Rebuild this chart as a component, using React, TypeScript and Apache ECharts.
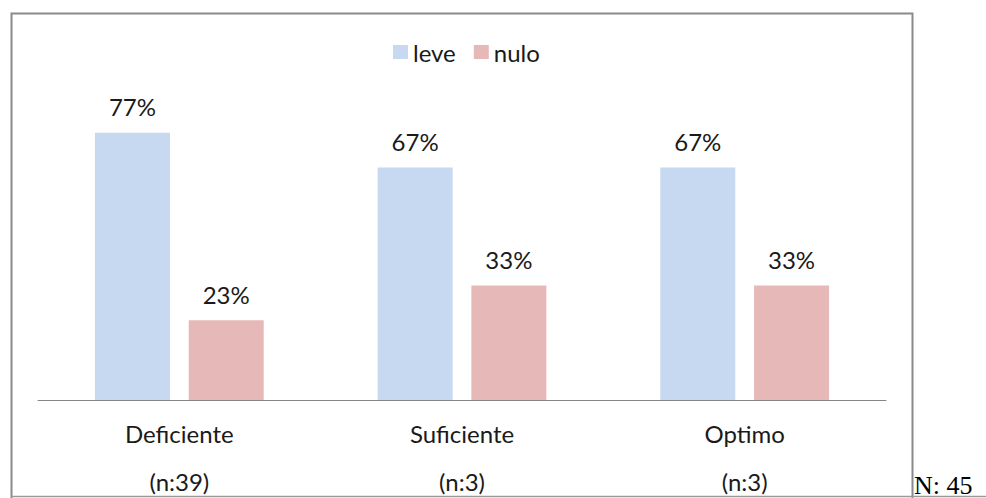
import React, { useEffect, useRef } from "react";
import * as echarts from "echarts";

// Chart data
const categories = ["Deficiente", "Suficiente", "Optimo"];
const groupCounts = ["(n:39)", "(n:3)", "(n:3)"];
const leveValues = [77, 67, 67];
const nuloValues = [23, 33, 33];
const totalLabel = "N: 45";

const FONT = "Lato, 'Noto Sans', sans-serif";
const TEXT = "#1a1a1a";

export default function App() {
  const ref = useRef<HTMLDivElement>(null);

  useEffect(() => {
    if (!ref.current) return;
    const chart = echarts.init(ref.current, undefined, { renderer: "svg" });
    const labelStyle = {
      show: true,
      position: "top" as const,
      distance: 14,
      formatter: "{c}%",
      color: TEXT,
      fontSize: 24,
      fontFamily: FONT,
    };
    chart.setOption({
      animation: false,
      backgroundColor: "#ffffff",
      legend: {
        top: 35,
        left: 388,
        itemWidth: 15,
        itemHeight: 14,
        itemGap: 18,
        icon: "rect",
        textStyle: { fontSize: 24, fontFamily: FONT, color: TEXT },
        data: ["leve", "nulo"],
      },
      grid: {
        left: 38,
        right: 100,
        top: 53,
        bottom: 98,
        containLabel: false,
        outerBoundsMode: "none",
      },
      xAxis: {
        type: "category",
        data: categories.map((c, i) => c + "\n" + groupCounts[i]),
        axisLine: { lineStyle: { color: "#868686", width: 1 } },
        axisTick: { show: false },
        axisLabel: {
          margin: 9,
          lineHeight: 48,
          fontSize: 24,
          fontFamily: FONT,
          color: TEXT,
        },
      },
      yAxis: {
        type: "value",
        min: 0,
        max: 100,
        show: false,
        splitLine: { show: false },
      },
      series: [
        {
          name: "leve",
          type: "bar",
          data: leveValues,
          barWidth: 75,
          barGap: "25%",
          itemStyle: { color: "#c6d9f1" },
          label: labelStyle,
        },
        {
          name: "nulo",
          type: "bar",
          data: nuloValues,
          barWidth: 75,
          itemStyle: { color: "#e6b9b8" },
          label: labelStyle,
        },
      ],
      graphic: [
        {
          type: "rect",
          shape: { x: 11.5, y: 13.5, width: 901, height: 490 },
          style: { fill: "none", stroke: "#8a8a8a", lineWidth: 2 },
          silent: true,
        },
        {
          type: "line",
          shape: { x1: 11, y1: 496.5, x2: 986, y2: 496.5 },
          style: { stroke: "#9a9a9a", lineWidth: 1.5 },
          silent: true,
        },
        {
          type: "text",
          x: 914,
          y: 485,
          style: {
            text: totalLabel,
            fontFamily: "'Liberation Serif', 'DejaVu Serif', serif",
            fontSize: 26,
            fill: "#000000",
            textVerticalAlign: "middle",
          },
        },
      ],
    });
    return () => chart.dispose();
  }, []);

  return (
    <div
      ref={ref}
      style={{ position: "absolute", left: 0, top: 0, width: 986, height: 498 }}
    />
  );
}
